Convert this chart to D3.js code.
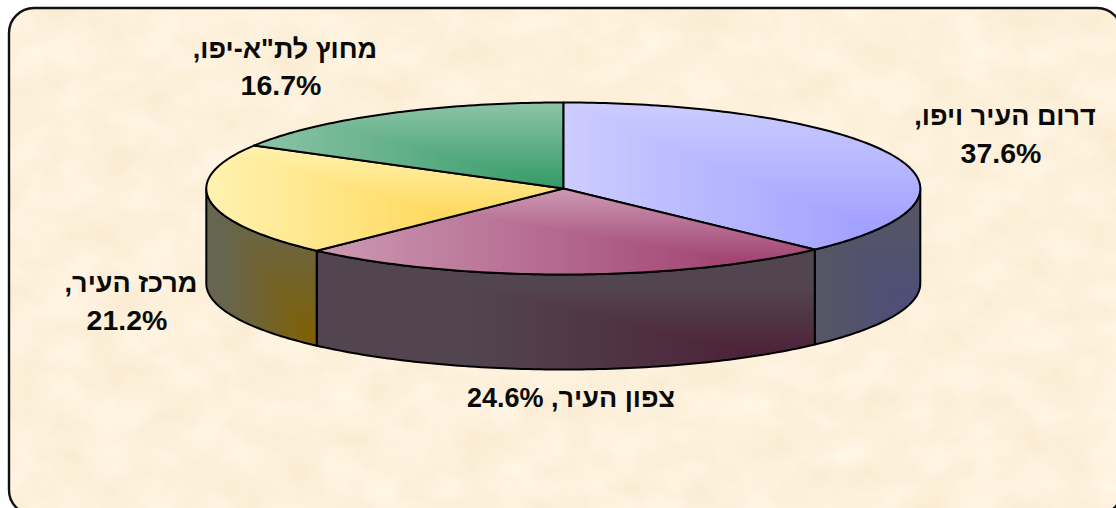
<!DOCTYPE html>
<html><head><meta charset="utf-8">
<script src="https://cdn.jsdelivr.net/npm/d3@7"></script>
<style>html,body{margin:0;padding:0;background:#fff}svg{display:block}</style>
</head><body><div id="c"></div>
<script>
const categories = ['דרום העיר ויפו', 'צפון העיר', 'מרכז העיר', 'מחוץ לת"א-יפו'];
const values = [37.6, 24.6, 21.2, 16.7];
const topDeep = ['#9999ff', '#993366', '#ffcc33', '#339966'];
const topLight = ['#ccccff', '#cc99b2', '#fff2b0', '#8cc4a6'];
const sideDeep = ['#4c4c80', '#4c1933', '#806000', '#1a4d33'];
const sideLight = ['#555566', '#524550', '#666650', '#445550'];
const sideFlat = [0.85, 0.7, 0.85, 0.85];

const W = 1116, H = 508;
const cx = 563.3, cy = 188.5, rx = 357, ry = 86, depth = 95;
const labelPos = [[1005, 125, 163], [571, 407, null], [131, 292, 330], [285, 58, 95]];
const nameSize = 27, pctSize = 28.5, pctDx = -4;

const x = d3.scaleLinear().domain([-1, 1]).range([cx - rx, cx + rx]);
const y = d3.scaleLinear().domain([-1, 1]).range([cy - ry, cy + ry]);
const line = d3.line();
const pie = d3.pie().sort(null).value(d => d).startAngle(0).endAngle(2 * Math.PI);
const arcs = pie(values);
const fmt = d3.format('.1f');

const svg = d3.select('#c').append('svg').attr('width', W).attr('height', H);
const defs = svg.append('defs');

const rim = (a, dy = 0) => [x(Math.sin(a)), y(-Math.cos(a)) + dy];
const sample = (a0, a1, dy = 0) => {
  const n = Math.max(2, Math.ceil(Math.abs(a1 - a0) * 60));
  return d3.range(n + 1).map(i => rim(a0 + (a1 - a0) * i / n, dy));
};

/* frame + parchment */
const frame = {x: 9, y: 8, width: 1113, height: 507, rx: 25};
const f = defs.append('filter').attr('id', 'parch').attr('x', 0).attr('y', 0).attr('width', 1).attr('height', 1)
  .attr('color-interpolation-filters', 'sRGB');
f.append('feTurbulence').attr('type', 'fractalNoise').attr('baseFrequency', '0.022 0.028').attr('numOctaves', 3).attr('seed', 11);
f.append('feColorMatrix').attr('type', 'matrix').attr('values',
  '0.03 0 0 0 0.978  0.055 0 0 0 0.917  0.10 0 0 0 0.812  0 0 0 0 1');
defs.append('clipPath').attr('id', 'frameClip').append('rect')
  .attr('x', frame.x).attr('y', frame.y).attr('width', frame.width).attr('height', frame.height).attr('rx', frame.rx);
svg.append('g').attr('clip-path', 'url(#frameClip)').append('rect')
  .attr('x', 0).attr('y', 0).attr('width', W).attr('height', H).attr('filter', 'url(#parch)');
svg.append('rect').attr('x', frame.x).attr('y', frame.y).attr('width', frame.width).attr('height', frame.height)
  .attr('rx', frame.rx).attr('fill', 'none').attr('stroke', '#111').attr('stroke-width', 2.4);

/* corner gradient: nested rectangles anchored at the lower right of a box, clipped to the shape */
function cornerFill(id, pts, light, deep, flat = 1) {
  const xs = pts.map(p => p[0]), ys = pts.map(p => p[1]);
  const x0 = d3.min(xs), x1 = d3.max(xs), y0 = d3.min(ys), y1 = d3.max(ys);
  defs.append('clipPath').attr('id', id).append('path').attr('d', line(pts) + 'Z');
  const col = d3.scaleLinear().domain([0, flat]).range([deep, light]).interpolate(d3.interpolateRgb).clamp(true);
  const steps = 64;
  svg.append('g').attr('clip-path', `url(#${id})`).selectAll('rect')
    .data(d3.range(steps, 0, -1).map(i => i / steps)).join('rect')
    .attr('shape-rendering', 'crispEdges')
    .attr('x', t => x1 - t * (x1 - x0)).attr('y', t => y1 - t * (y1 - y0))
    .attr('width', t => t * (x1 - x0) + 1).attr('height', t => t * (y1 - y0) + 1)
    .attr('fill', t => col(t));
}
const outline = pts => svg.append('path').attr('d', line(pts) + 'Z')
  .attr('fill', 'none').attr('stroke', '#000').attr('stroke-width', 2).attr('stroke-linejoin', 'round');

/* side walls: visible only on the front half */
arcs.forEach((d, i) => {
  const a0 = Math.max(d.startAngle, Math.PI / 2), a1 = Math.min(d.endAngle, 3 * Math.PI / 2);
  if (a1 <= a0) return;
  const pts = sample(a0, a1).concat(sample(a1, a0, depth));
  cornerFill('side' + i, pts, sideLight[i], sideDeep[i], sideFlat[i]);
  outline(pts);
});

/* top faces */
arcs.forEach((d, i) => {
  const pts = [[x(0), y(0)]].concat(sample(d.startAngle, d.endAngle));
  cornerFill('top' + i, pts, topLight[i], topDeep[i]);
  outline(pts);
});

/* labels */
const label = svg.append('g').attr('font-family', '"Liberation Sans", Arial, sans-serif')
  .attr('font-weight', 700).attr('font-size', nameSize).attr('fill', '#0a0a0a')
  .attr('text-anchor', 'middle');
categories.forEach((c, i) => {
  const [lx, ly1, ly2] = labelPos[i], pct = fmt(values[i]) + '%';
  if (ly2 === null) {
    label.append('text').attr('x', lx).attr('y', ly1).attr('direction', 'rtl').text(c + ', ' + pct);
  } else {
    label.append('text').attr('x', lx).attr('y', ly1).attr('direction', 'rtl').text(c + ',');
    label.append('text').attr('x', lx + pctDx).attr('y', ly2).attr('font-size', pctSize).text(pct);
  }
});
</script></body></html>
